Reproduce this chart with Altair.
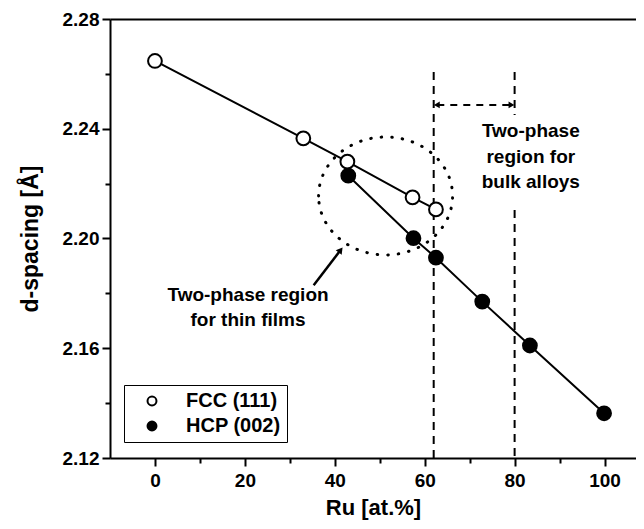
import altair as alt
import pandas as pd

# ---- data ----
fcc_x = [0, 33, 42.8, 57.3, 62.5]
fcc_y = [2.2647, 2.2365, 2.228, 2.215, 2.2106]
hcp_x = [43.0, 57.5, 62.5, 72.8, 83.4, 99.9]
hcp_y = [2.2229, 2.2001, 2.193, 2.177, 2.161, 2.1363]

x_ticks = [0, 20, 40, 60, 80, 100]
x_minor = [10, 30, 50, 70, 90]
y_ticks = [2.12, 2.16, 2.20, 2.24, 2.28]
y_minor = [2.14, 2.18, 2.22, 2.26]

# bulk two-phase boundaries (dashed verticals, with gap for text on the right one)
bulk_x = [62, 80, 80]
bulk_y1 = [2.2607, 2.2607, 2.2104]
bulk_y2 = [2.12, 2.245, 2.12]

bulk_arrow_x = [62.8, 79.2]
bulk_arrow_y = 2.2487
bulk_head_x = [62.7, 79.3]
bulk_head_shape = ["triangle-left", "triangle-right"]

bulk_text = ["Two-phase", "region for", "bulk alloys"]
bulk_text_x = 83.6
bulk_text_y = [2.2392, 2.2298, 2.2205]

film_text = ["Two-phase region", "for thin films"]
film_text_x = 20.7
film_text_y = [2.1795, 2.1703]

film_arrow = dict(x=35.3, y=2.1830, x2=41.3, y2=2.1958)
film_head = dict(x=41.3, y=2.1958, angle=37)

ellipse_c = dict(x=51.3, y=2.2155)

FONT = "Liberation Sans"

fcc = pd.DataFrame({"x": fcc_x, "y": fcc_y, "phase": "FCC (111)"})
hcp = pd.DataFrame({"x": hcp_x, "y": hcp_y, "phase": "HCP (002)"})
pts = pd.concat([fcc, hcp], ignore_index=True)

xs = alt.Scale(domain=[-10, 107], nice=False, zero=False)
ys = alt.Scale(domain=[2.12, 2.28], nice=False, zero=False)

def X(field="x", axis=None):
    return alt.X(field, type="quantitative", scale=xs, axis=axis)

def Y(field="y", axis=None):
    return alt.Y(field, type="quantitative", scale=ys, axis=axis)

# data lines
lines = alt.Chart(pts).mark_line(color="black", strokeWidth=2).encode(
    x=X(), y=Y(), detail="phase:N"
)

main_x_axis = alt.Axis(values=x_ticks, title="Ru [at.%]", titleFontSize=22,
                       labelFontSize=19, tickSize=8, tickWidth=2, domainWidth=2,
                       labelPadding=5, titlePadding=7, grid=False, orient="bottom")
main_y_axis = alt.Axis(values=y_ticks, title="d-spacing [Å]", format=".2f",
                       titleFontSize=23, labelFontSize=19, tickSize=8, tickWidth=2,
                       domainWidth=2, labelPadding=3, titlePadding=20, grid=False,
                       orient="left")

points = alt.Chart(pts).mark_point(filled=True, size=190, stroke="black",
                                   strokeWidth=2, shape="circle", opacity=1).encode(
    x=X(axis=main_x_axis),
    y=Y(axis=main_y_axis),
    fill=alt.Fill("phase:N",
                  scale=alt.Scale(domain=["FCC (111)", "HCP (002)"], range=["white", "black"]),
                  legend=alt.Legend(title=None, orient="none", legendX=14, legendY=366,
                                    strokeColor="black", padding=6, symbolType="circle",
                                    symbolSize=80, symbolStrokeColor="black",
                                    symbolStrokeWidth=2, symbolOffset=12, labelOffset=24,
                                    labelFontSize=20, labelFont=FONT, labelFontWeight="bold",
                                    rowPadding=5, labelColor="black")),
)

# minor ticks
minor_df = pd.DataFrame({"x": x_minor[:4], "y": y_minor})
minor = alt.Chart(minor_df).mark_point(opacity=0).encode(
    x=X(axis=alt.Axis(values=x_minor, labels=False, domain=False, tickSize=5,
                      tickWidth=2, title=None, grid=False, orient="bottom")),
    y=Y(axis=alt.Axis(values=y_minor, labels=False, domain=False, tickSize=5,
                      tickWidth=2, title=None, grid=False, orient="left")),
)

# top frame line
top = alt.Chart(minor_df).mark_point(opacity=0).encode(
    x=X(axis=alt.Axis(labels=False, ticks=False, domain=True, domainWidth=2,
                      title=None, grid=False, orient="top")),
    y=Y(),
)

# dashed vertical lines
bulk_df = pd.DataFrame({"x": bulk_x, "y": bulk_y1, "y2": bulk_y2})
bulk = alt.Chart(bulk_df).mark_rule(color="black", strokeWidth=2, strokeDash=[8, 6]).encode(
    x=X(), y=Y(), y2="y2"
)

arrow_df = pd.DataFrame({"x": [bulk_arrow_x[0]], "x2": [bulk_arrow_x[1]], "y": [bulk_arrow_y]})
barrow = alt.Chart(arrow_df).mark_rule(color="black", strokeWidth=2, strokeDash=[7, 6]).encode(
    x=X(), x2="x2", y=Y()
)
heads_df = pd.DataFrame({"x": bulk_head_x, "y": bulk_arrow_y, "shape": bulk_head_shape})
bheads = alt.Chart(heads_df).mark_point(filled=True, color="black", size=45, opacity=1).encode(
    x=X(), y=Y(), shape=alt.Shape("shape:N", scale=None, legend=None)
)

# annotation texts
btxt_df = pd.DataFrame({"x": bulk_text_x, "y": bulk_text_y, "t": bulk_text})
btxt = alt.Chart(btxt_df).mark_text(font=FONT, fontWeight="bold", fontSize=19,
                                    color="black", baseline="middle").encode(
    x=X(), y=Y(), text="t:N"
)
ftxt_df = pd.DataFrame({"x": film_text_x, "y": film_text_y, "t": film_text})
ftxt = alt.Chart(ftxt_df).mark_text(font=FONT, fontWeight="bold", fontSize=19,
                                    color="black", baseline="middle").encode(
    x=X(), y=Y(), text="t:N"
)

# thin-film arrow
farrow = alt.Chart(pd.DataFrame([film_arrow])).mark_rule(color="black", strokeWidth=2.5).encode(
    x=X(), y=Y(), x2="x2", y2="y2"
)
fhead = alt.Chart(pd.DataFrame([film_head])).mark_point(
    filled=True, color="black", size=55, shape="triangle-up", opacity=1
).encode(x=X(), y=Y(), angle=alt.Angle("angle:Q", scale=None))

# dotted ellipse
ell = alt.Chart(pd.DataFrame([ellipse_c])).mark_point(
    shape="M -1 0 A 1 0.88 0 1 1 1 0 A 1 0.88 0 1 1 -1 0 Z",
    size=134 * 134, filled=False, color="black", strokeWidth=3,
    strokeDash=[0.5, 10], strokeCap="round", opacity=1
).encode(x=X(), y=Y())

chart = alt.layer(
    ell, bulk, barrow, bheads, lines, points, minor, top, btxt, ftxt, farrow, fhead
).resolve_axis(x="independent", y="independent").properties(
    width=526, height=439,
    autosize=alt.AutoSizeParams(type="none"),
    padding={"left": 102, "top": 11, "right": 0, "bottom": 63},
    background="white",
).configure_view(stroke=None).configure_axis(
    labelFont=FONT, titleFont=FONT, labelFontWeight="bold", titleFontWeight="bold",
    labelColor="black", titleColor="black", domainColor="black", tickColor="black"
)

chart.save("out.html", embed_options={"renderer": "svg", "actions": False})
